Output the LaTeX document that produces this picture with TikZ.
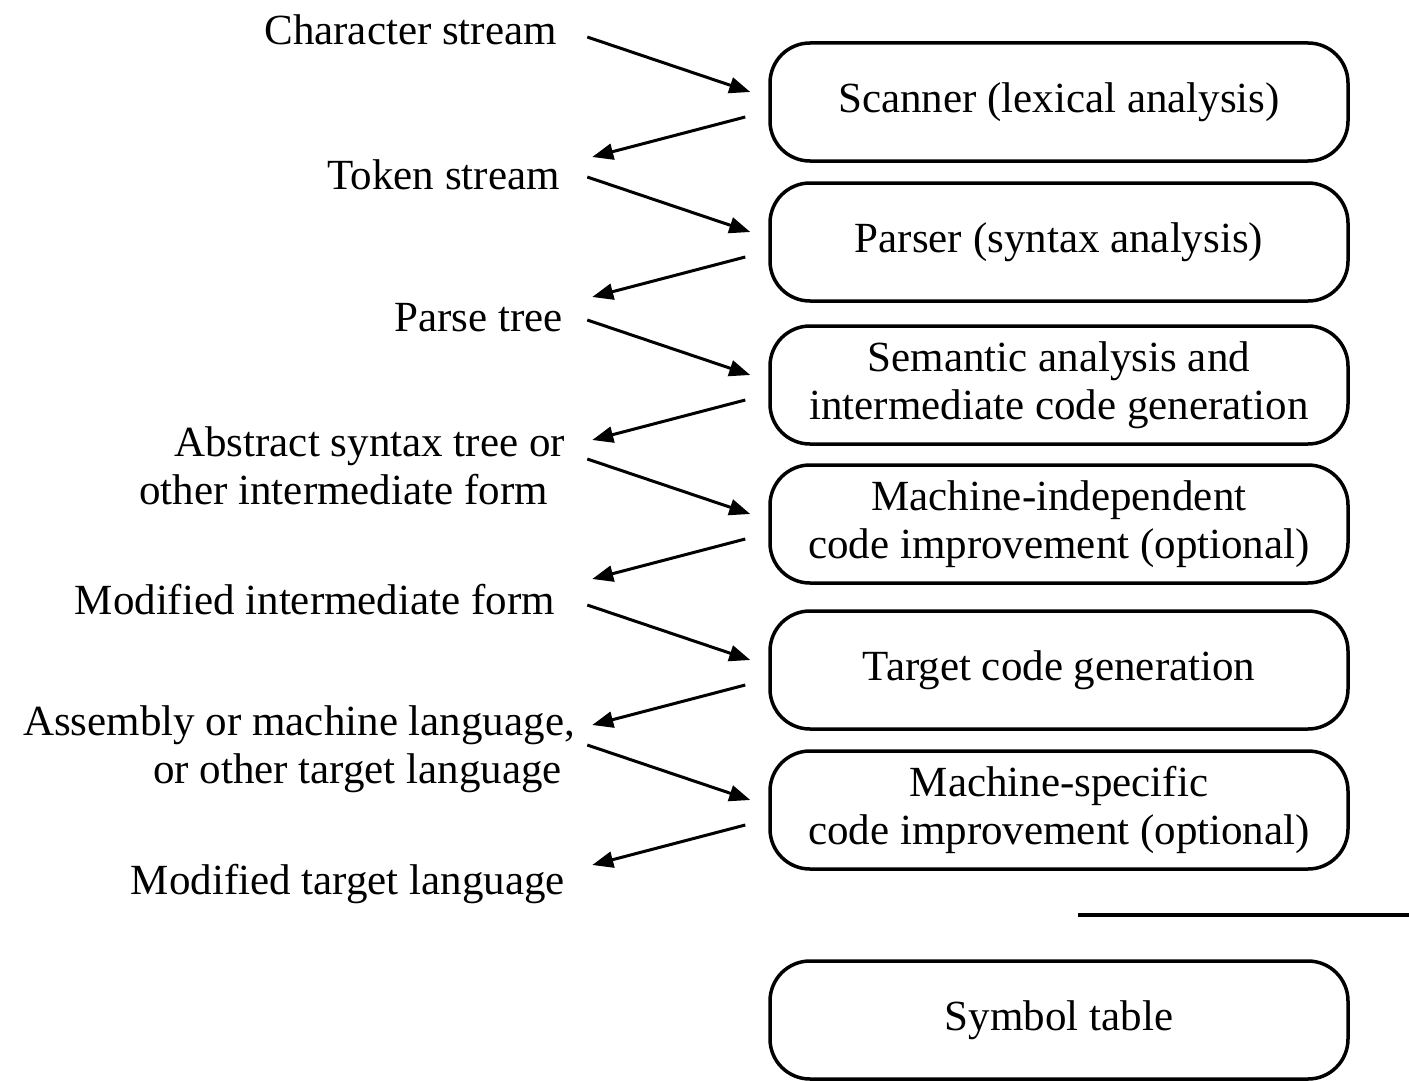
\documentclass[tikz,border=0pt]{standalone}
\usepackage{fontspec}
\setmainfont{Liberation Serif}
\usetikzlibrary{arrows.meta}
\begin{document}
\begin{tikzpicture}[x=1pt,y=-1pt,
  stage/.style={draw, line width=3.5pt, rounded corners=40pt, minimum width=578pt, minimum height=118pt, align=center, font=\fontsize{43}{48}\selectfont, inner sep=0pt},
  lbl/.style={anchor=east, align=right, font=\fontsize{43}{48}\selectfont, inner sep=0pt},
  flow/.style={line width=3pt, -{Triangle[length=21pt,width=16pt]}}
]
\useasboundingbox (0,0) rectangle (1409,1081);

% stages
\node[stage] (b1) at (1059,102) {Scanner (lexical analysis)};
\node[stage] (b2) at (1059,242) {Parser (syntax analysis)};
\node[stage] (b3) at (1059,385) {Semantic analysis and\\intermediate code generation};
\node[stage] (b4) at (1059,524) {Machine-independent\\code improvement (optional)};
\node[stage] (b5) at (1059,670) {Target code generation};
\node[stage] (b6) at (1059,810) {Machine-specific\\code improvement (optional)};
\node[stage] (st) at (1059,1020) {Symbol table};

% labels
\node[lbl] (l0) at (557,30) {Character stream};
\node[lbl] (l1) at (560,175) {Token stream};
\node[lbl] (l2) at (563,318) {Parse tree};
\node[lbl] (l3) at (565,466) {Abstract syntax tree or\\other intermediate form\hspace*{17pt}};
\node[lbl] (l4) at (555,600) {Modified intermediate form};
\node[lbl] (l5) at (575,749) {Assembly or machine language,\\or other target language\hspace*{13pt}};
\node[lbl] (l6) at (565,884) {Modified target language};

% arrow end points
\foreach \i in {1,...,6}{
  \coordinate (in\i s) at ([xshift=-181pt,yshift=65pt]b\i.west);
  \coordinate (in\i e) at ([xshift=-18pt,yshift=10pt]b\i.west);
  \coordinate (out\i s) at ([xshift=-23pt,yshift=-15pt]b\i.west);
  \coordinate (out\i e) at ([xshift=-176pt,yshift=-55pt]b\i.west);
}
\foreach \i in {1,...,6}{
  \draw[flow] (in\i s) -- (in\i e);
  \draw[flow] (out\i s) -- (out\i e);
}

% separator line
\coordinate (sepa) at (1078,915);
\coordinate (sepb) at (1409,915);
\draw[line width=4pt] (sepa) -- (sepb);
\end{tikzpicture}
\end{document}
